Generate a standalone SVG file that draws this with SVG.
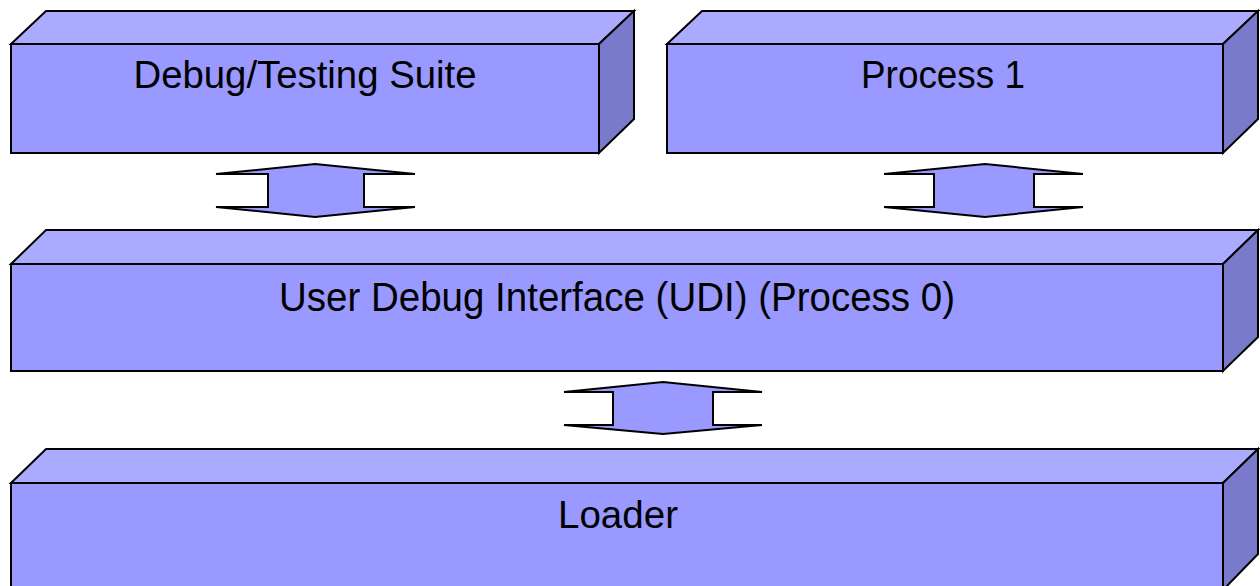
<svg xmlns="http://www.w3.org/2000/svg" width="1260" height="586" viewBox="0 0 1260 586">
  <style>
    .front { fill: #9999ff; stroke: #000; stroke-width: 2; stroke-linejoin: miter; }
    .top { fill: #aaaaff; stroke: #000; stroke-width: 2; }
    .side { fill: #7a7acc; stroke: #000; stroke-width: 2; }
    .arrow { fill: #9999ff; stroke: #000; stroke-width: 2; stroke-linejoin: miter; }
    .label { font-family: "Liberation Sans", Arial, sans-serif; font-size: 38px; fill: #000; text-anchor: middle; }
  </style>
  <rect width="1260" height="586" fill="#ffffff"/>

  <!-- Debug/Testing Suite block -->
  <g id="debug-suite">
    <polygon class="top" points="11,44 46,11 634,11 599,44"/>
    <polygon class="side" points="599,44 634,11 634,119 599,153"/>
    <rect class="front" x="11" y="44" width="588" height="109"/>
    <text class="label" x="305" y="88" textLength="343" lengthAdjust="spacingAndGlyphs">Debug/Testing Suite</text>
  </g>

  <!-- Process 1 block -->
  <g id="process1">
    <polygon class="top" points="667,44 702,11 1258,11 1223,44"/>
    <polygon class="side" points="1223,44 1258,11 1258,119 1223,153"/>
    <rect class="front" x="667" y="44" width="556" height="109"/>
    <text class="label" x="943" y="88" textLength="164" lengthAdjust="spacingAndGlyphs">Process 1</text>
  </g>

  <!-- User Debug Interface block -->
  <g id="udi">
    <polygon class="top" points="11,264 46,230 1258,230 1223,264"/>
    <polygon class="side" points="1223,264 1258,230 1258,337 1223,371"/>
    <rect class="front" x="11" y="264" width="1212" height="107"/>
    <text class="label" x="617" y="311" style="font-size:40px" textLength="676" lengthAdjust="spacingAndGlyphs">User Debug Interface (UDI) (Process 0)</text>
  </g>

  <!-- Loader block -->
  <g id="loader">
    <polygon class="top" points="11,483 46,449 1258,449 1223,483"/>
    <polygon class="side" points="1223,483 1258,449 1258,554 1223,590"/>
    <rect class="front" x="11" y="483" width="1212" height="107"/>
    <text class="label" x="618" y="528" textLength="120" lengthAdjust="spacingAndGlyphs">Loader</text>
  </g>

  <!-- two-way block arrows between layers -->
  <g id="connectors">
    <polygon class="arrow" points="315,164 415,174 364,174 364,207 415,207 315,217 216,207 268,207 268,174 216,174"/>
    <polygon class="arrow" points="985,164 1083,174 1034,174 1034,207 1083,207 985,217 884,207 934,207 934,174 884,174"/>
    <polygon class="arrow" points="663,382 762,392 713,392 713,425 762,425 663,434 564,425 613,425 613,392 564,392"/>
  </g>
</svg>
